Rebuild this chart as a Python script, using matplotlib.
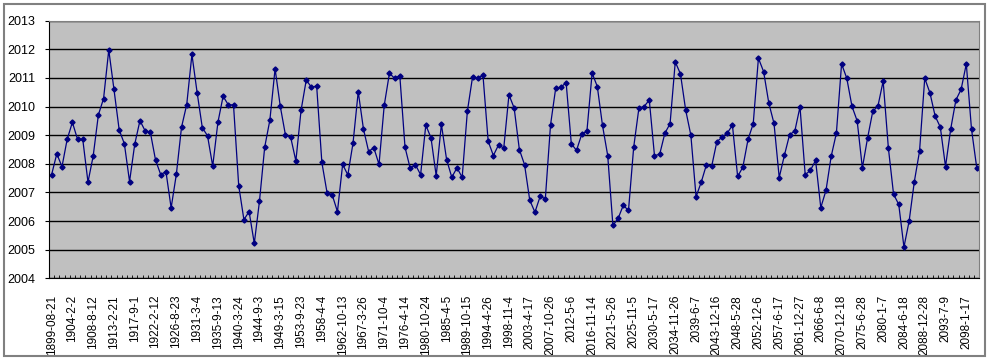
import matplotlib
matplotlib.use("Agg")
import matplotlib.pyplot as plt
import numpy as np
from matplotlib.patches import Rectangle

plt.rcParams['font.family'] = ['Liberation Sans', 'DejaVu Sans']

values = [
    2007.62, 2008.35, 2007.90, 2008.86, 2009.45, 2008.85, 2008.85, 2007.36, 2008.27, 2009.71,
    2010.28, 2011.98, 2010.60, 2009.19, 2008.70, 2007.38, 2008.69, 2009.51, 2009.15, 2009.10,
    2008.13, 2007.62, 2007.73, 2006.46, 2007.63, 2009.28, 2010.07,
    2011.82, 2010.49, 2009.26, 2008.98, 2007.92, 2009.45, 2010.36, 2010.06, 2010.06, 2007.24,
    2006.05, 2006.33, 2005.22, 2006.70, 2008.58, 2009.53, 2011.32, 2010.01, 2009.00, 2008.93,
    2008.10, 2009.87, 2010.93, 2010.67, 2010.72,
    2008.05, 2006.99, 2006.91, 2006.33, 2007.98, 2007.61, 2008.73, 2010.52, 2009.22, 2008.43,
    2008.56, 2007.98, 2010.04, 2011.16, 2010.99, 2011.08, 2008.58, 2007.84, 2007.97, 2007.62,
    2009.35, 2008.91, 2007.58, 2009.38, 2008.15, 2007.53,
    2007.86, 2007.53, 2009.84, 2011.04, 2010.99, 2011.10, 2008.79, 2008.29, 2008.66, 2008.55,
    2010.41, 2009.95, 2008.50, 2007.97, 2006.73, 2006.31, 2006.86, 2006.78, 2009.36, 2010.65,
    2010.67, 2010.84, 2008.70, 2008.47, 2009.03, 2009.14,
    2011.17, 2010.70, 2009.34, 2008.29, 2005.85, 2006.09, 2006.55, 2006.37, 2008.58, 2009.94,
    2010.00, 2010.23, 2008.29, 2008.33, 2009.07, 2009.40, 2011.56, 2011.14, 2009.88, 2009.00,
    2006.85, 2007.36, 2007.97, 2007.91, 2008.77, 2008.93,
    2009.07, 2009.35, 2007.56, 2007.88, 2008.85, 2009.40, 2011.69, 2011.22, 2010.12, 2009.41,
    2007.52, 2008.30, 2009.02, 2009.14, 2009.99, 2007.62, 2007.77, 2008.12, 2006.47, 2007.07,
    2008.26, 2009.07, 2011.49, 2010.99, 2010.01, 2009.50,
    2007.86, 2008.90, 2009.83, 2010.02, 2010.89, 2008.56, 2006.94, 2006.58, 2005.09, 2006.00,
    2007.38, 2008.44, 2010.99, 2010.48, 2009.67, 2009.28, 2007.90, 2009.22, 2010.23, 2010.60,
    2011.49, 2009.21, 2007.87,
]

tick_labels = [
    '1899-08-21', '1904-2-2', '1908-8-12', '1913-2-21', '1917-9-1', '1922-2-12',
    '1926-8-23', '1931-3-4', '1935-9-13', '1940-3-24', '1944-9-3', '1949-3-15',
    '1953-9-23', '1958-4-4', '1962-10-13', '1967-3-26', '1971-10-4', '1976-4-14',
    '1980-10-24', '1985-4-5', '1989-10-15', '1994-4-26', '1998-11-4', '2003-4-17',
    '2007-10-26', '2012-5-6', '2016-11-14', '2021-5-26', '2025-11-5', '2030-5-17',
    '2034-11-26', '2039-6-7', '2043-12-16', '2048-5-28', '2052-12-6', '2057-6-17',
    '2061-12-27', '2066-6-8', '2070-12-18', '2075-6-28', '2080-1-7', '2084-6-18',
    '2088-12-28', '2093-7-9', '2098-1-17',
]
label_step = 4

n = len(values)
x = np.arange(n)

fig = plt.figure(figsize=(9.9, 3.6), dpi=100)
ax = fig.add_axes([49 / 990, 1 - 278.3 / 360, (979.3 - 49) / 990, (278.3 - 20.7) / 360])

# outer chart frame
fig.patches.append(Rectangle((4 / 990, 4 / 360), 981 / 990, 352 / 360,
                             transform=fig.transFigure, fill=False,
                             edgecolor='#808080', linewidth=1.5))

ax.set_facecolor('#C0C0C0')
ax.plot(x, values, color='#000080', linewidth=0.9, marker='D', markersize=2.6,
        markerfacecolor='#000080', markeredgecolor='#000080')

ax.set_ylim(2004, 2013)
ax.set_yticks(range(2004, 2014))
ax.grid(axis='y', color='black', linewidth=1)
ax.set_axisbelow(True)

ax.set_xlim(-0.5, n - 0.5)
ax.set_xticks(x[::label_step])
ax.set_xticklabels(tick_labels, rotation=90)
ax.set_xticks(np.arange(-0.5, n, 1), minor=True)
ax.tick_params(axis='x', which='major', length=0, pad=12, labelsize=8.5)
ax.tick_params(axis='x', which='minor', length=2.5, direction='in', color='black')
ax.tick_params(axis='y', length=3, pad=7, labelsize=9)

for side in ['top', 'right']:
    ax.spines[side].set_color('#808080')
for side in ['left', 'bottom']:
    ax.spines[side].set_color('black')

fig.savefig('out.png', dpi=100)
